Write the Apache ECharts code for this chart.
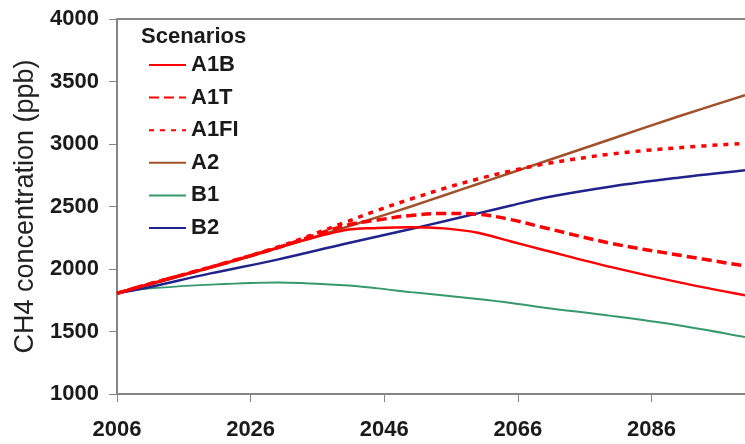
<!DOCTYPE html>
<html>
<head>
<meta charset="utf-8">
<script src="https://cdn.jsdelivr.net/npm/echarts@6/dist/echarts.min.js"></script>
<style>
  html, body { margin: 0; padding: 0; background: #ffffff; }
  #chart { width: 745px; height: 444px; }
</style>
</head>
<body>
<div id="chart"></div>
<script>
// Projected methane concentration by emission scenario (ppb)
const years = [2006, 2010, 2020, 2030, 2040, 2045, 2050, 2055, 2060, 2065, 2070, 2080, 2090, 2100];
const scenarioNames = ['A1B', 'A1T', 'A1FI', 'A2', 'B1', 'B2'];
const a1b  = [1805, 1868, 2015, 2170, 2310, 2328, 2335, 2325, 2290, 2220, 2150, 2015, 1895, 1790];
const a1t  = [1805, 1868, 2015, 2170, 2345, 2392, 2428, 2445, 2438, 2395, 2330, 2205, 2112, 2025];
const a1fi = [1805, 1868, 2015, 2175, 2370, 2470, 2560, 2645, 2720, 2785, 2840, 2920, 2970, 3005];
const a2   = [1805, 1862, 2010, 2165, 2330, 2415, 2500, 2590, 2680, 2770, 2860, 3040, 3220, 3390];
const b1   = [1805, 1840, 1875, 1893, 1870, 1845, 1815, 1788, 1760, 1728, 1690, 1625, 1550, 1455];
const b2   = [1805, 1845, 1965, 2075, 2200, 2260, 2320, 2382, 2445, 2508, 2570, 2660, 2730, 2790];
const yTicks = [1000, 1500, 2000, 2500, 3000, 3500, 4000];
const xTickYears = [2006, 2026, 2046, 2066, 2086];

const FONT = "'Liberation Sans', Arial, sans-serif";
const AXIS_GREY = '#858585';

function pairs(values) {
  return years.map((yr, i) => [yr, values[i]]);
}

function lineSeries(name, values, color, width, dash) {
  return {
    name: name,
    type: 'line',
    data: pairs(values),
    smooth: 0.35,
    symbol: 'none',
    showSymbol: false,
    lineStyle: { color: color, width: width, type: dash || 'solid', cap: 'butt' },
    itemStyle: { color: color }
  };
}

const chart = echarts.init(document.getElementById('chart'), null, { renderer: 'canvas' });

chart.setOption({
  backgroundColor: '#ffffff',
  animation: false,
  textStyle: { fontFamily: FONT },
  title: {
    text: 'Scenarios',
    left: 136,
    top: 21,
    textStyle: { fontFamily: FONT, fontSize: 22, fontWeight: 'bold', color: '#1a1a1a' }
  },
  legend: {
    data: scenarioNames,
    orient: 'vertical',
    left: 148,
    top: 54,
    padding: 0,
    itemWidth: 37,
    itemHeight: 14,
    itemGap: 10.6,
    itemStyle: { opacity: 0 },
    textStyle: { fontFamily: FONT, fontSize: 22, fontWeight: 'bold', color: '#1a1a1a', lineHeight: 22 }
  },
  grid: { left: 117, right: -2, top: 19, bottom: 50, containLabel: false },
  xAxis: [{
    type: 'value',
    min: years[0],
    max: years[years.length - 1],
    interval: xTickYears[1] - xTickYears[0],
    axisLine: { show: true, lineStyle: { color: AXIS_GREY, width: 2 } },
    axisTick: { show: true, inside: false, length: 8, lineStyle: { color: AXIS_GREY, width: 1 } },
    axisLabel: {
      margin: 25,
      showMaxLabel: false,
      fontFamily: FONT, fontSize: 22, fontWeight: 'bold', color: '#1a1a1a',
      formatter: v => (xTickYears.indexOf(v) >= 0 ? String(v) : '')
    },
    splitLine: { show: false }
  }, {
    // top frame edge
    type: 'value',
    position: 'top',
    min: years[0],
    max: years[years.length - 1],
    axisLine: { show: true, lineStyle: { color: AXIS_GREY, width: 2 } },
    axisTick: { show: false },
    axisLabel: { show: false },
    splitLine: { show: false }
  }],
  yAxis: {
    type: 'value',
    min: yTicks[0],
    max: yTicks[yTicks.length - 1],
    interval: yTicks[1] - yTicks[0],
    name: 'CH4 concentration (ppb)',
    nameLocation: 'middle',
    nameRotate: 90,
    nameGap: 76,
    nameTextStyle: { fontFamily: FONT, fontSize: 27, fontWeight: 'normal', color: '#222222' },
    axisLine: { show: true, lineStyle: { color: AXIS_GREY, width: 2 } },
    axisTick: { show: true, inside: false, length: 8, lineStyle: { color: AXIS_GREY, width: 1 } },
    axisLabel: {
      margin: 18, fontFamily: FONT, fontSize: 22, fontWeight: 'bold', color: '#1a1a1a',
      formatter: v => String(v)
    },
    splitLine: { show: false }
  },
  series: [
    lineSeries('A2', a2, '#a0502a', 2.5),
    lineSeries('B1', b1, '#35996a', 2),
    lineSeries('B2', b2, '#22228c', 2.5),
    lineSeries('A1B', a1b, '#ff0000', 2.5),
    lineSeries('A1T', a1t, '#ff0000', 3.5, [10, 5]),
    lineSeries('A1FI', a1fi, '#ff0000', 3.5, [5, 6])
  ]
});
</script>
</body>
</html>
